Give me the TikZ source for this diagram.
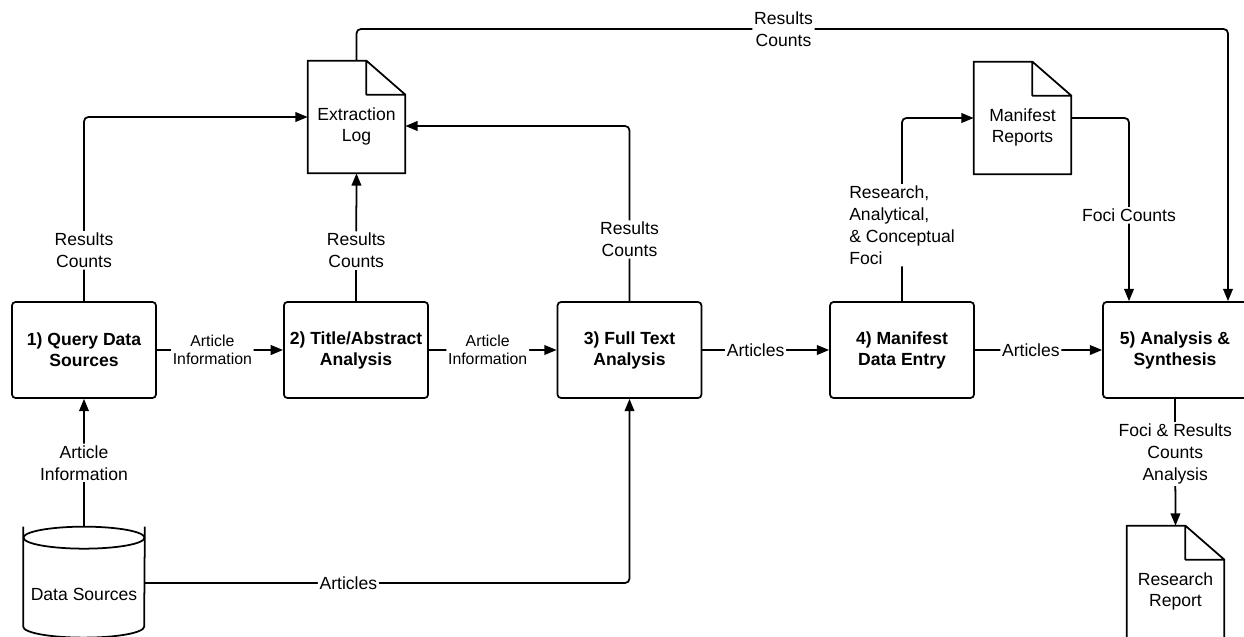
\documentclass[tikz,border=0pt]{standalone}
\usepackage{fontspec}
\setmainfont{Liberation Sans}
\usetikzlibrary{arrows.meta,calc}

\tikzset{
  proc/.style={draw, line width=1pt, rounded corners=2pt, minimum width=2.88cm, minimum height=1.92cm, align=center, font=\fontsize{10}{12}\selectfont\bfseries},
  docbox/.style={minimum width=1.94cm, minimum height=2.24cm, align=center, font=\fontsize{10}{12.5}\selectfont},
  flow/.style={line width=1pt, rounded corners=2.5pt, -{Triangle[length=7pt,width=5.5pt]}},
  lbl/.style={fill=white, inner sep=1pt, align=center, font=\fontsize{10}{12.5}\selectfont},
  sml/.style={lbl, font=\fontsize{9}{10.5}\selectfont},
}

\begin{document}
\begin{tikzpicture}[x=0.02cm,y=-0.02cm]
\useasboundingbox (0,0) rectangle (1244,636);

% process steps
\node[proc] (query) at (84,350) {1) Query Data\\Sources};
\node[proc] (title) at (356,350) {2) Title/Abstract\\Analysis};
\node[proc] (full) at (629.5,350) {3) Full Text\\Analysis};
\node[proc] (entry) at (902,350) {4) Manifest\\Data Entry};
\node[proc] (synth) at (1175,350) {5) Analysis \&\\Synthesis};

% documents
\node[docbox] (log) at (356.5,117) {\rule{0pt}{18pt}Extraction\\Log};
\node[docbox] (mrep) at (1022.5,118) {\rule{0pt}{18pt}Manifest\\Reports};
\node[docbox] (rrep) at (1175.5,582) {\rule{0pt}{18pt}Research\\Report};
\foreach \d in {log,mrep,rrep} {
  \draw[line width=1pt, line join=round] (\d.south west) -- (\d.north west) -- ([xshift=-0.78cm]\d.north east)
    -- ([yshift=-0.68cm]\d.north east) -- (\d.south east) -- cycle
    ([xshift=-0.78cm]\d.north east) |- ([yshift=-0.68cm]\d.north east);
}

% data store
\node[minimum width=2.42cm, minimum height=2.24cm, font=\fontsize{10}{12.5}\selectfont] (src) at (84,583) {\rule{0pt}{19.5pt}Data Sources};
\draw[line width=1pt] (src.north west) -- ([yshift=-2.0cm]src.north west)
  arc[start angle=180, end angle=360, x radius=1.21cm, y radius=0.22cm] -- (src.north east);
\draw[line width=1pt] ([yshift=-0.22cm]src.north) ellipse[x radius=1.21cm, y radius=0.22cm];

% flows
\draw[flow] (src.north) -- node[lbl]{Article\\Information} (query.south);
\draw[flow] (src.east) -| node[lbl, pos=0.21]{Articles} (full.south);
\draw[flow] (query) -- node[sml, pos=0.44]{Article\\Information} (title);
\draw[flow] (title) -- node[sml, pos=0.46]{Article\\Information} (full);
\draw[flow] (full) -- node[lbl, pos=0.42]{Articles} (entry);
\draw[flow] (entry) -- node[lbl, pos=0.44]{Articles} (synth);

\draw[flow] (query.north) |- node[lbl, pos=0.138]{Results\\Counts} (log.west);
\draw[flow] (title.north) -- node[lbl, pos=0.395]{Results\\Counts} (log.south);
\draw[flow] (full.north) |- node[lbl, pos=0.176]{Results\\Counts} ([yshift=-0.18cm]log.east);
\draw[flow] (log.north) |- node[lbl, pos=0.745]{Results\\Counts} (1228,29) -- ([xshift=1.06cm]synth.north);

\draw[flow] (entry.north) |- node[lbl, align=left, pos=0.207]{Research,\\Analytical,\\\& Conceptual\\Foci} (mrep.west);
\draw[flow] (mrep.east) -| node[lbl, pos=0.766]{Foci Counts} ([xshift=-0.92cm]synth.north);
\draw[flow] (synth.south) -- node[lbl, pos=0.435]{Foci \& Results\\Counts\\Analysis} (rrep.north);
\end{tikzpicture}
\end{document}
